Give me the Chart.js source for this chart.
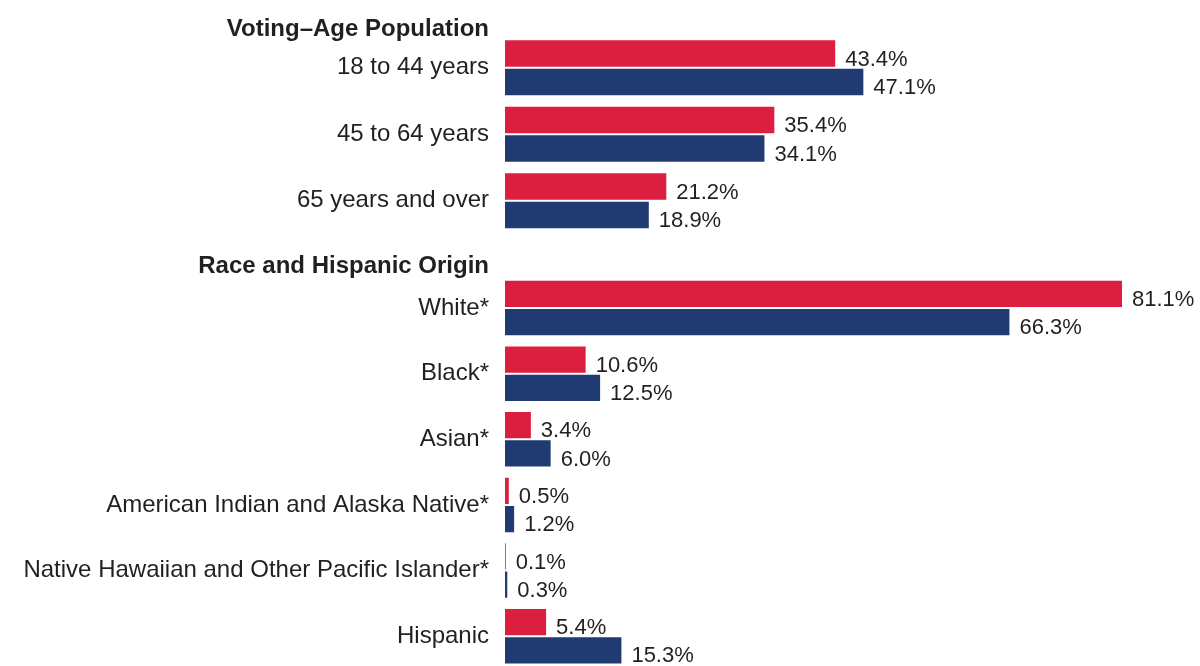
<!DOCTYPE html>
<html>
<head>
<meta charset="utf-8">
<script src="https://cdn.jsdelivr.net/npm/chart.js@4.4.0/dist/chart.umd.min.js"></script>
<style>
  html, body { margin: 0; padding: 0; background: #fff; overflow: hidden; }
  .wrap { position: absolute; left: 0; width: 1200px; }
  #wrapAge { top: 0; height: 234px; }
  #wrapRace { top: 234px; height: 435px; }
</style>
</head>
<body>
<div class="wrap" id="wrapAge"><canvas id="chartAge"></canvas></div>
<div class="wrap" id="wrapRace"><canvas id="chartRace"></canvas></div>
<script>
// Data
const SERIES_NAMES = ['Voters', 'Voting-age population'];

const ageHeader = 'Voting–Age Population';
const ageLabels = ['18 to 44 years', '45 to 64 years', '65 years and over'];
const ageVoters = [43.4, 35.4, 21.2];
const agePop = [47.1, 34.1, 18.9];

const raceHeader = 'Race and Hispanic Origin';
const raceLabels = ['White*', 'Black*', 'Asian*', 'American Indian and Alaska Native*',
  'Native Hawaiian and Other Pacific Islander*', 'Hispanic'];
const raceVoters = [81.1, 10.6, 3.4, 0.5, 0.1, 5.4];
const racePop = [66.3, 12.5, 6.0, 1.2, 0.3, 15.3];

const RED = '#dc1e3f';
const NAVY = '#1f3b71';
const TEXT = '#231f20';
const FONT = '"Liberation Sans", Arial, Helvetica, sans-serif';
const X_MAX = 91.35;
const AXIS_W = 505;

// value labels at the end of each bar
const valueLabels = {
  id: 'valueLabels',
  afterDatasetsDraw(chart) {
    const ctx = chart.ctx;
    ctx.save();
    ctx.font = '22px ' + FONT;
    ctx.fillStyle = TEXT;
    ctx.textAlign = 'left';
    ctx.textBaseline = 'alphabetic';
    chart.data.datasets.forEach((ds, i) => {
      chart.getDatasetMeta(i).data.forEach((bar, j) => {
        ctx.fillText(ds.data[j].toFixed(1) + '%', bar.x + 10, bar.y + bar.height / 2 - 1);
      });
    });
    ctx.restore();
  }
};

// bold section header, right aligned with the category labels
const sectionHeader = {
  id: 'sectionHeader',
  afterDraw(chart, args, opts) {
    if (!opts.text) return;
    const ctx = chart.ctx;
    ctx.save();
    ctx.font = 'bold 24px ' + FONT;
    ctx.fillStyle = TEXT;
    ctx.textAlign = 'right';
    ctx.textBaseline = 'alphabetic';
    ctx.fillText(opts.text, chart.chartArea.left - 16, opts.y);
    ctx.restore();
  }
};

function makeBarChart(id, labels, voters, pop, header, headerY, padTop) {
  return new Chart(document.getElementById(id), {
    type: 'bar',
    data: {
      labels: labels,
      datasets: [
        { label: SERIES_NAMES[0], data: voters, backgroundColor: RED },
        { label: SERIES_NAMES[1], data: pop, backgroundColor: NAVY }
      ]
    },
    options: {
      indexAxis: 'y',
      responsive: true,
      maintainAspectRatio: false,
      animation: false,
      categoryPercentage: 0.86,
      barPercentage: 0.93,
      layout: { padding: { top: padTop, right: 0, bottom: 0, left: 0 } },
      plugins: {
        legend: { display: false },
        tooltip: { enabled: false },
        sectionHeader: { text: header, y: headerY }
      },
      scales: {
        x: { display: false, min: 0, max: X_MAX },
        y: {
          grid: { display: false, drawTicks: false },
          border: { display: false },
          ticks: { color: TEXT, font: { family: FONT, size: 24 }, padding: 16, autoSkip: false },
          afterFit(scale) {
            scale.width = AXIS_W;
            scale.paddingTop = 0;
            scale.paddingBottom = 0;
          }
        }
      }
    },
    plugins: [valueLabels, sectionHeader]
  });
}

makeBarChart('chartAge', ageLabels, ageVoters, agePop, ageHeader, 36, 34.5);
makeBarChart('chartRace', raceLabels, raceVoters, racePop, raceHeader, 39.3, 41.2);
</script>
</body>
</html>
